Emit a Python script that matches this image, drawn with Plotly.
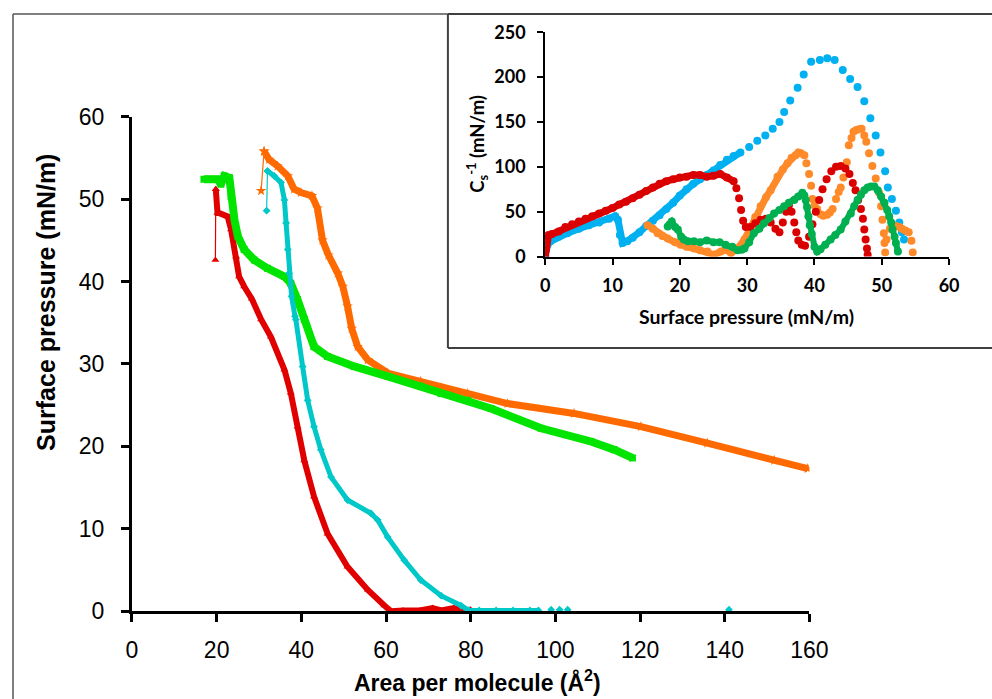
import plotly.graph_objects as go

W, H = 992, 699
# observed mapping of the photographed page: picture = OFF + S * page  (per axis)
OFF_X, S_X = 5.0, 0.975
OFF_Y, S_Y = 13.5, 0.9615

# ---------------- main chart data (Area per molecule vs surface pressure) ----------------
red_x = [19.7, 19.8, 20.2, 20.6, 22.6, 23.4, 24.6, 25.3, 26.5, 28.3, 30.5, 32.8, 36.0, 37.5, 39.1,
         40.7, 43.0, 46.2, 50.9, 55.7, 59.6, 61.2, 64, 68, 71, 73, 76, 78, 80]
red_y = [42.6, 51.2, 48.3, 48.3, 47.9, 46.3, 43.0, 40.6, 39.4, 37.9, 35.4, 33.3, 29.3, 26.5, 22.4,
         18.3, 13.9, 9.4, 5.4, 2.6, 0.7, 0.0, 0.1, 0.1, 0.4, 0.1, 0.4, 0.1, 0.2]

cyan_x = [31.8, 32.0, 33.6, 35.2, 36.0, 36.4, 36.8, 37.1, 37.7, 38.5, 38.7, 40.3, 41.5, 43.0, 44.6,
          47.0, 50.9, 56.4, 58.0, 60.4, 64.3, 68.2, 73.0, 77.7, 79.6, 82, 86, 90, 94, 96,
          99, 101, 102.9, 141]
cyan_y = [48.6, 53.4, 52.8, 52.0, 49.9, 47.1, 43.9, 41.0, 38.2, 35.8, 35.4, 29.7, 25.6, 22.4, 19.6,
          16.3, 13.5, 11.9, 11.1, 9.0, 6.2, 3.8, 1.9, 0.7, 0.1, 0.1, 0.1, 0.1, 0.1, 0.1,
          0.2, 0.2, 0.2, 0.2]

green_x = [17.0, 18.6, 20.2, 21.0, 21.8, 23.0, 23.4, 24.2, 25.0, 26.5, 28.9, 32.0, 36.0, 37.5, 39.1,
           40.7, 43.0, 46.2, 52.5, 60.4, 68.2, 73.0, 79.3, 84.8, 96.6, 108.4, 113.9, 118.2]
green_y = [52.4, 52.4, 52.4, 51.8, 52.8, 52.6, 50.3, 47.5, 45.5, 43.9, 42.6, 41.6, 40.6, 39.8, 37.8,
           35.4, 32.1, 30.9, 29.7, 28.5, 27.3, 26.4, 25.6, 24.6, 22.2, 20.6, 19.6, 18.6]

orange_x = [30.5, 31.2, 32.4, 34.4, 36.8, 38.3, 39.9, 42.5, 43.8, 45.0, 46.4, 48.6, 49.8, 50.9, 51.9,
            53.3, 55.7, 60.4, 68.2, 73.0, 79.3, 88.7, 104.4, 120.2, 135.9, 151.7, 159.6]
orange_y = [51.0, 55.8, 54.8, 54.0, 52.8, 51.2, 50.8, 50.4, 48.9, 45.0, 43.2, 41.0, 39.4, 37.0, 34.3,
            32.1, 30.5, 28.9, 27.9, 27.1, 26.4, 25.2, 24.0, 22.4, 20.4, 18.3, 17.3]

# ---------------- inset data (compression modulus vs surface pressure) ----------------
blue_x = [0, 0.3, 0.8, 2, 3.3, 5, 6.5, 8, 9.5, 10.4, 10.8, 11.1, 11.5, 12.2, 13, 14, 15, 16, 17, 18,
          19, 20, 21, 22, 23, 24, 25, 26, 27, 28, 29, 30.3, 31.5, 32.7, 33.8, 34.8, 35.5, 36.4,
          37.5, 38.4, 39.5, 40.8, 41.9, 43.0, 44.2, 45.3, 46.4, 47.4, 48.3, 49.1, 49.8, 50.5,
          50.9, 51.5, 52.1, 52.6, 53.0, 53.3]
blue_y = [0, 12, 17, 22, 26, 31, 35, 38, 42, 45, 41, 24, 15, 17, 21, 27, 34, 40, 46, 53,
          60, 68, 75, 81, 86, 91, 96, 102, 108, 112, 116, 122, 129, 135, 142.5, 150, 161, 174,
          188, 203, 217, 219, 221, 219, 208, 198, 189, 173, 154, 135, 116, 95,
          77, 64, 51, 38, 27, 19]

orange2_x = [15.2, 16.0, 16.7, 17.4, 18.2, 19.3, 20.1, 21, 22.1, 23, 24.1, 25.1, 26.1, 26.8, 27.6,
             28.6, 29.6, 30.5, 31.2, 32, 32.8, 33.5, 34.5, 35.3, 36, 36.6, 37.2, 37.6, 38.0, 38.5,
             38.8, 39.2, 39.5, 39.7, 40.0, 40.4, 40.9, 41.3, 41.9, 42.3, 42.7, 43.2, 43.6, 43.9,
             44.3, 44.8, 45.1, 45.5, 45.8, 46.2, 46.6, 47.0, 47.4, 47.7, 48.1, 48.6, 49.1, 49.6,
             49.9, 50.1, 50.3, 50.4, 50.5, 50.7, 51.2, 51.6, 52.1, 52.6, 53.0, 53.5, 54.0, 54.4, 54.6]
orange2_y = [35, 31, 26, 23, 20, 16, 13, 11, 9, 7, 5.6, 2, 5.6, 7.5, 4,
             9, 19, 33, 44, 56, 66, 74, 89, 97, 104, 110, 113, 116, 115, 113,
             104, 92, 79, 64, 57, 53, 47, 45.5, 46.5, 49, 53, 64, 72, 77,
             88, 105, 124, 132, 139, 141, 142, 142.5, 135, 128, 115, 101, 87, 71,
             56, 41, 26, 15, 4.5, 19, 31, 33, 34, 33, 31, 29, 27, 17.5, 4.5]

red2_x = [0, 0.1, 0.2, 0.5, 1, 2, 3, 4, 5, 6, 7, 8, 9, 10, 11, 12, 13, 14, 15, 16, 17, 18, 19, 20,
          21, 22, 23, 24, 25, 26, 27, 28, 28.4, 28.8, 29.1, 29.4, 29.8, 30.5, 31.2, 32, 32.8, 33.5,
          34.2, 34.8, 35.3, 35.8, 36.2, 36.6, 37, 37.3, 37.6, 38.1, 38.6, 39.2, 39.7, 40.2, 40.7,
          41.2, 41.8, 42.5, 43.2, 43.9, 44.6, 45.2, 45.7, 46.1, 46.5, 46.9, 47.2, 47.4, 47.6, 47.8, 47.9]
red2_y = [0, 8, 20, 24, 25, 28, 33, 36, 39, 42, 45, 48, 51, 54, 58, 61, 65, 69, 73, 77, 81, 84, 86, 88,
          89, 91, 91, 89, 90, 92, 88, 84, 76, 65, 52, 40, 33, 33, 37, 41, 42, 38,
          31, 27, 38, 50, 57, 50, 38, 27, 18, 13, 12, 22, 36, 50, 63,
          75, 86, 95, 100, 101, 98, 92, 82, 74, 63, 53, 42, 30, 19, 9, 2]

green2_x = [18.2, 18.5, 18.8, 19.3, 19.7, 20.2, 20.6, 21.2, 22.1, 23, 24, 25, 25.9, 26.8, 27.8,
            28.6, 29.2, 29.6, 30.3, 31, 31.8, 32.5, 33.3, 34, 34.8, 35.5, 36.2, 37, 37.6, 38.2,
            38.5, 38.7, 38.9, 39.1, 39.3, 39.6, 40, 40.4, 40.9, 41.6, 42.4, 43.1, 43.9, 44.6, 45.4,
            45.9, 46.4, 46.9, 47.4, 47.9, 48.4, 48.9, 49.4, 49.9, 50.4, 50.8, 51.1, 51.4, 51.6,
            51.9, 52.1, 52.4]
green2_y = [33.5, 36, 39, 33, 30, 22, 19, 17, 17, 16, 18, 16, 16, 13, 11,
            7, 7.5, 9, 16, 26, 31, 37, 43, 48, 52, 56, 60, 63, 67, 71,
            68, 63, 55, 45, 35, 25, 11, 5.6, 8, 13, 19, 24, 30, 39, 48,
            56, 63, 69, 74, 77, 78, 78, 74, 67, 60, 52, 45, 38, 30,
            22, 15, 5.6]

x_ticks_main = [0, 20, 40, 60, 80, 100, 120, 140, 160]
y_ticks_main = [0, 10, 20, 30, 40, 50, 60]
x_ticks_inset = [0, 10, 20, 30, 40, 50, 60]
y_ticks_inset = [0, 50, 100, 150, 200, 250]

# colours
C_RED, C_CYAN, C_GREEN, C_ORANGE = "#E00000", "#00C8C8", "#00E400", "#FF6A00"
I_BLUE, I_ORANGE, I_RED, I_GREEN = "#00B0F0", "#FF8A2A", "#DA0000", "#00B050"

fig = go.Figure()

def band(x, y, color, width, symbol, msize, start_thin=True, n_line=None, xa="x", ya="y"):
    if start_thin:
        fig.add_trace(go.Scatter(x=x[:2], y=y[:2], mode="lines+markers", xaxis=xa, yaxis=ya,
                                 line=dict(color=color, width=1.2),
                                 marker=dict(symbol=symbol, size=msize, color=color),
                                 showlegend=False, hoverinfo="skip"))
        s = 1
    else:
        s = 0
    e = n_line if n_line is not None else len(x)
    fig.add_trace(go.Scatter(x=x[s:e], y=y[s:e], mode="lines", xaxis=xa, yaxis=ya,
                             line=dict(color=color, width=width),
                             showlegend=False, hoverinfo="skip"))
    fig.add_trace(go.Scatter(x=x[s:], y=y[s:], mode="markers", xaxis=xa, yaxis=ya,
                             marker=dict(symbol=symbol, size=msize, color=color),
                             showlegend=False, hoverinfo="skip"))

band(red_x, red_y, C_RED, 6, "triangle-up", 7)
band(orange_x, orange_y, C_ORANGE, 7, "star", 8)
band(green_x, green_y, C_GREEN, 8, "square", 7, start_thin=False)
band(cyan_x, cyan_y, C_CYAN, 5, "diamond", 6, n_line=30)

# inset
def dots(x, y, color, n_line, lw=7, ms=8):
    fig.add_trace(go.Scatter(x=x[:n_line], y=y[:n_line], mode="lines", xaxis="x2", yaxis="y2",
                             line=dict(color=color, width=lw),
                             showlegend=False, hoverinfo="skip"))
    fig.add_trace(go.Scatter(x=x, y=y, mode="markers", xaxis="x2", yaxis="y2",
                             marker=dict(symbol="circle", size=ms, color=color),
                             showlegend=False, hoverinfo="skip"))

dots(blue_x, blue_y, I_BLUE, 31)
dots(orange2_x, orange2_y, I_ORANGE, 29)
dots(red2_x, red2_y, I_RED, 32)
dots(green2_x, green2_y, I_GREEN, len(green2_x), lw=6)

MAIN_FONT = "Liberation Sans, Arial, sans-serif"
INSET_FONT = "Lato, Open Sans, sans-serif"

# target picture pixel -> paper fraction
def px(x):
    return ((x - OFF_X) / S_X) / W

def py(y):
    return 1 - ((y - OFF_Y) / S_Y) / H

fig.update_layout(
    width=W, height=H,
    margin=dict(l=0, r=0, t=0, b=0, pad=0),
    paper_bgcolor="white", plot_bgcolor="rgba(0,0,0,0)",
    showlegend=False,
    xaxis=dict(domain=[px(131), px(808.6)], range=[0, 160], tickvals=x_ticks_main,
               showline=True, linewidth=3, linecolor="black", ticks="outside", ticklen=8,
               tickwidth=3, tickcolor="black", showgrid=False, zeroline=False,
               tickfont=dict(family=MAIN_FONT, size=23, color="black"),
               ticklabelstandoff=8, anchor="y", fixedrange=True),
    yaxis=dict(domain=[py(611), py(117)], range=[0, 60], tickvals=y_ticks_main,
               showline=True, linewidth=3, linecolor="black", ticks="outside", ticklen=8,
               tickwidth=3, tickcolor="black", showgrid=False, zeroline=False,
               tickfont=dict(family=MAIN_FONT, size=23, color="black"),
               ticklabelstandoff=12, anchor="x", fixedrange=True),
    xaxis2=dict(domain=[px(544.3), px(948.3)], range=[0, 60], tickvals=x_ticks_inset,
                showline=True, linewidth=2, linecolor="black", ticks="outside", ticklen=6,
                tickwidth=2, tickcolor="black", showgrid=False, zeroline=False,
                tickfont=dict(family=INSET_FONT, size=18, color="black", weight="bold"),
                ticklabelstandoff=6, anchor="y2", fixedrange=True),
    yaxis2=dict(domain=[py(256.7), py(32.7)], range=[0, 250], tickvals=y_ticks_inset,
                showline=True, linewidth=2, linecolor="black", ticks="outside", ticklen=6,
                tickwidth=2, tickcolor="black", showgrid=False, zeroline=False,
                tickfont=dict(family=INSET_FONT, size=18, color="black", weight="bold"),
                ticklabelstandoff=8, anchor="x2", fixedrange=True),
    shapes=[
        dict(type="line", xref="paper", yref="paper", x0=px(12), x1=px(12), y0=py(14.5), y1=py(720),
             line=dict(color="#555555", width=1.5), layer="below"),
        dict(type="line", xref="paper", yref="paper", x0=px(12), x1=px(447), y0=py(14.5), y1=py(14.5),
             line=dict(color="#555555", width=1.5), layer="below"),
        dict(type="line", xref="paper", yref="paper", x0=px(447), x1=px(447), y0=py(14.5), y1=py(348),
             line=dict(color="#404040", width=2), layer="below"),
        dict(type="line", xref="paper", yref="paper", x0=px(447), x1=px(1010), y0=py(14.5), y1=py(14.5),
             line=dict(color="#404040", width=2), layer="below"),
        dict(type="line", xref="paper", yref="paper", x0=px(447), x1=px(1010), y0=py(348), y1=py(348),
             line=dict(color="#404040", width=2), layer="below"),
    ],
    annotations=[
        dict(text="<b>Surface pressure (mN/m)</b>", xref="paper", yref="paper", x=px(45), y=py(302),
             textangle=-90, showarrow=False, xanchor="center", yanchor="middle",
             font=dict(family=MAIN_FONT, size=25, color="black")),
        dict(text="<b>Area per molecule (Å<sup>2</sup>)</b>", xref="paper", yref="paper",
             x=px(477), y=py(681), showarrow=False, xanchor="center", yanchor="middle",
             font=dict(family=MAIN_FONT, size=23, color="black")),
        dict(text="<b>Surface pressure (mN/m)</b>", xref="paper", yref="paper", x=px(746),
             y=py(316.7), showarrow=False, xanchor="center", yanchor="middle",
             font=dict(family=INSET_FONT, size=19.5, color="black")),
        dict(text="<b>C<sub>s</sub><sup>-1</sup> (mN/m)</b>", xref="paper", yref="paper",
             x=px(476.7), y=py(144.5), textangle=-90, showarrow=False, xanchor="center",
             yanchor="middle", font=dict(family=INSET_FONT, size=18.5, color="black")),
    ],
)

fig.write_html("out.html")
